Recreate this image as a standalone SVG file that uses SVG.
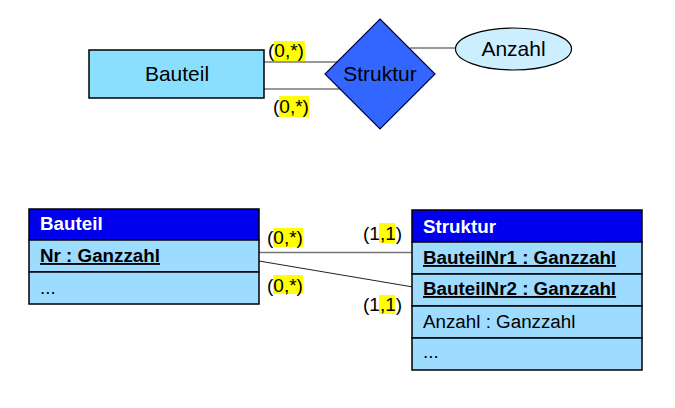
<svg xmlns="http://www.w3.org/2000/svg" width="675" height="408" viewBox="0 0 675 408">
<style>
text{font-family:"Liberation Sans",Arial,sans-serif;fill:#000}
.big{font-size:21px}
.lbl{font-size:19px}
.hl{fill:#FFFF00}
.hdr{fill:#0000EE;stroke:#000;stroke-width:1.5}
.row{fill:#9DDBFF;stroke:#000;stroke-width:1.5}
.ht{font-size:18.8px;font-weight:bold;fill:#fff}
.bt{font-size:18.8px;font-weight:bold;text-decoration:underline}
.nt{font-size:18.8px}
.gl{stroke:#777;stroke-width:1.6;fill:none}
.dl{stroke:#222;stroke-width:1;fill:none}
</style>
<rect width="675" height="408" fill="#fff"/>
<g id="connectors">
<line class="gl" x1="264" y1="62" x2="340" y2="62"/>
<line class="gl" x1="264" y1="89" x2="342" y2="89"/>
<line class="gl" x1="410" y1="48" x2="456" y2="48"/>
<line class="gl" x1="259" y1="252.5" x2="413" y2="252.5"/>
<line class="dl" x1="259" y1="261" x2="413" y2="287"/>
</g>
<g id="er-bauteil">
<rect x="89" y="50" width="175" height="48" fill="#8ADFFF" stroke="#000" stroke-width="1.5"/>
<text class="big" x="177" y="81" text-anchor="middle">Bauteil</text>
</g>
<g id="er-struktur">
<polygon points="380,19 435,74 380,129 325,74" fill="#3366FF" stroke="#000040" stroke-width="1.2"/>
<text class="big" x="380" y="81" text-anchor="middle">Struktur</text>
</g>
<g id="er-anzahl">
<ellipse cx="513.5" cy="49" rx="58" ry="21" fill="#CCEEFF" stroke="#000" stroke-width="1.2"/>
<text class="big" x="513.5" y="56" text-anchor="middle">Anzahl</text>
</g>
<g id="labels">
<rect class="hl" x="274" y="41" width="31" height="20"/>
<text class="lbl" x="268" y="57">(0,*)</text>
<rect class="hl" x="279" y="96" width="30" height="21"/>
<text class="lbl" x="273" y="112.5">(0,*)</text>
<rect class="hl" x="273" y="228" width="30" height="19"/>
<text class="lbl" x="267" y="244">(0,*)</text>
<rect class="hl" x="273" y="275" width="30" height="19"/>
<text class="lbl" x="267" y="292">(0,*)</text>
<rect class="hl" x="379" y="223" width="16" height="20"/>
<text class="lbl" x="363" y="239.5">(1,1)</text>
<rect class="hl" x="379" y="295" width="16" height="19"/>
<text class="lbl" x="363" y="311">(1,1)</text>
</g>
<g id="table-bauteil">
<rect class="hdr" x="29" y="209" width="230" height="31"/>
<rect class="row" x="29" y="240" width="230" height="32"/>
<rect class="row" x="29" y="272" width="230" height="32"/>
<text class="ht" x="40" y="230">Bauteil</text>
<text class="bt" x="40" y="262">Nr : Ganzzahl</text>
<text class="nt" x="40" y="294">...</text>
</g>
<g id="table-struktur">
<rect class="hdr" x="412" y="210" width="230" height="32"/>
<rect class="row" x="412" y="242" width="230" height="32"/>
<rect class="row" x="412" y="274" width="230" height="32"/>
<rect class="row" x="412" y="306" width="230" height="32"/>
<rect class="row" x="412" y="338" width="230" height="32"/>
<text class="ht" x="423" y="233">Struktur</text>
<text class="bt" x="423" y="264">BauteilNr1 : Ganzzahl</text>
<text class="bt" x="423" y="295">BauteilNr2 : Ganzzahl</text>
<text class="nt" x="423" y="328">Anzahl : Ganzzahl</text>
<text class="nt" x="423" y="358">...</text>
</g>
</svg>
